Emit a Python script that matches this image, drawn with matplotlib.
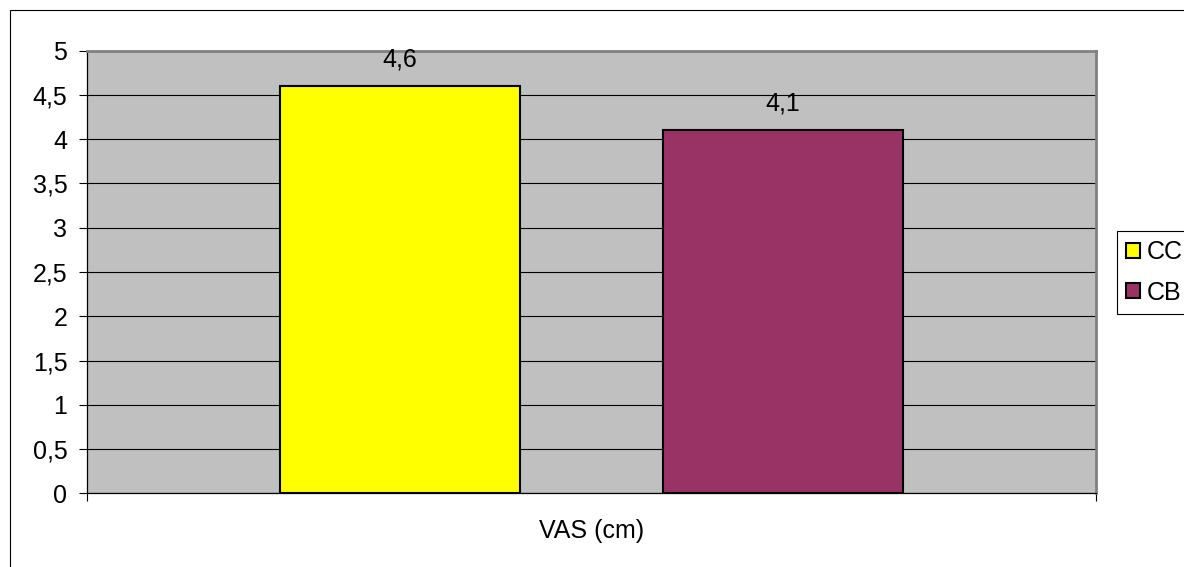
import matplotlib.pyplot as plt
from matplotlib.patches import Rectangle
from matplotlib.ticker import FuncFormatter, MultipleLocator

plt.rcParams['font.family'] = ['Liberation Sans', 'DejaVu Sans']

# dados
categoria = 'VAS (cm)'
grupos = ['CC', 'CB']
valores = [4.6, 4.1]
cores = ['#FFFF00', '#993366']

fonte = 18


def virgula(v, pos=None):
    # separador decimal com virgula
    if v == int(v):
        return str(int(v))
    return ('%.1f' % v).replace('.', ',')


fig = plt.figure(figsize=(11.84, 5.67), dpi=100)
ax = fig.add_axes([0.0737, 0.1300, 0.8517, 0.7806])
ax.set_facecolor('#C0C0C0')

largura = 0.238
desloc = [-0.19, 0.19]
for g, v, c, d in zip(grupos, valores, cores, desloc):
    ax.bar(0.5 + d, v, width=largura, color=c, edgecolor='black',
           linewidth=1.5, label=g, zorder=3)
    ax.annotate(virgula(v), (0.5 + d, v), xytext=(0, 14.4), textcoords='offset points',
                ha='center', va='baseline', fontsize=fonte, color='black', zorder=4)

ax.set_xlim(0, 1)
ax.set_ylim(0, 5)
ax.yaxis.set_major_locator(MultipleLocator(0.5))
ax.yaxis.set_major_formatter(FuncFormatter(virgula))
ax.yaxis.grid(True, color='black', linewidth=0.8, zorder=1)
ax.set_axisbelow(True)

ax.tick_params(axis='y', direction='out', length=5.8, width=0.8, pad=8.6,
               labelsize=fonte, colors='black')
ax.set_xticks([0, 1])
ax.set_xticklabels([])
ax.tick_params(axis='x', direction='out', length=5.8, width=0.8)

# nome da categoria abaixo do eixo
ax.annotate(categoria, (0.5, 0), xycoords='axes fraction', xytext=(0, -32.4),
            textcoords='offset points', ha='center', va='baseline', fontsize=fonte)

for lado in ['left', 'bottom']:
    ax.spines[lado].set_color('black')
    ax.spines[lado].set_linewidth(0.9)
for lado in ['top', 'right']:
    ax.spines[lado].set_color('#808080')
    ax.spines[lado].set_linewidth(2)

leg = fig.legend(loc='upper left', bbox_to_anchor=(1117 / 1184, 1 - 231 / 567),
                 fontsize=fonte, frameon=True, fancybox=False, framealpha=1,
                 edgecolor='black', handlelength=0.56, handleheight=0.56,
                 handletextpad=0.28, labelspacing=0.66, borderpad=0.36,
                 borderaxespad=0)
leg.get_frame().set_linewidth(0.8)

# moldura externa do grafico
fig.patches.append(Rectangle((9.5 / 1184, -0.1), 1.2, 1.1 - 9.5 / 567,
                             transform=fig.transFigure, fill=False,
                             edgecolor='black', linewidth=0.8))

fig.savefig('out.png', dpi=100)
